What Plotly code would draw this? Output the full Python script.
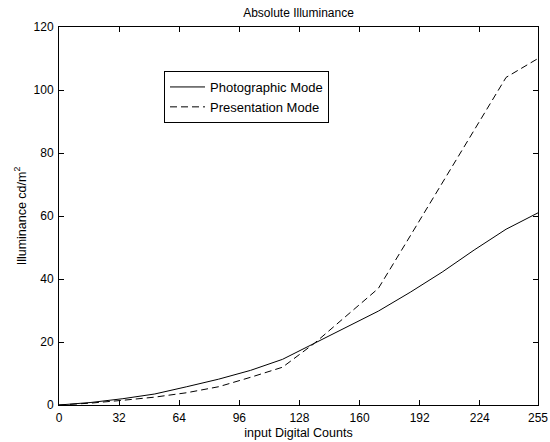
import plotly.graph_objects as go

counts = [0, 17, 34, 51, 68, 85, 102, 119, 136, 153, 170, 187, 204, 221, 238, 255]
photographic = [0, 0.8, 2.0, 3.5, 5.8, 8.2, 11.0, 14.5, 19.6, 24.8, 29.8, 35.8, 42.2, 49.2, 55.8, 61.0]
presentation = [0, 0.6, 1.5, 2.5, 3.9, 5.8, 8.8, 12.0, 19.6, 28.3, 37.0, 53.7, 70.4, 87.2, 104.0, 110.0]
x_ticks = [0, 32, 64, 96, 128, 160, 192, 224, 255]
y_ticks = [0, 20, 40, 60, 80, 100, 120]

FAM = "Liberation Sans, Arial, sans-serif"
tick_font = dict(family=FAM, size=12, color="black")
title_font = dict(family=FAM, size=12.5, color="black")

fig = go.Figure()
fig.add_trace(go.Scatter(x=counts, y=photographic, mode="lines", name="Photographic Mode",
                         line=dict(color="black", width=1)))
fig.add_trace(go.Scatter(x=counts, y=presentation, mode="lines", name="Presentation Mode",
                         line=dict(color="black", width=1, dash="7px,4px")))

axis_common = dict(showgrid=False, zeroline=False, showline=True, linecolor="black", linewidth=1,
                   mirror="ticks", ticks="inside", ticklen=5, tickcolor="black", tickwidth=1,
                   tickfont=tick_font, automargin=False, ticklabelstandoff=2)

fig.update_layout(
    width=550, height=442,
    margin=dict(l=59, r=12, t=27, b=37),
    paper_bgcolor="white", plot_bgcolor="white",
    font=tick_font,
    title=dict(text="Absolute Illuminance", xref="paper", x=0.5, xanchor="center",
               yref="container", y=1 - 13 / 442, yanchor="middle",
               font=dict(family=FAM, size=12, color="black")),
    xaxis=dict(range=[0, 255], tickvals=x_ticks, ticktext=[str(v) for v in x_ticks],
               title=dict(text="input Digital Counts", standoff=3, font=title_font), **axis_common),
    yaxis=dict(range=[0, 120], tickvals=y_ticks, ticktext=[str(v) for v in y_ticks],
               title=dict(text="Illuminance cd/m<sup>2</sup>", standoff=4, font=title_font), **axis_common),
    legend=dict(x=(164 - 59) / 479, y=(405 - 71) / 378, xanchor="left", yanchor="top", bgcolor="white",
                bordercolor="black", borderwidth=1, font=dict(family=FAM, size=13, color="black"),
                itemwidth=35, tracegroupgap=0),
    showlegend=True,
)

fig.write_html("out.html", config={"displayModeBar": False},
               post_script="document.body.style.margin='0';document.body.style.overflow='hidden';")
